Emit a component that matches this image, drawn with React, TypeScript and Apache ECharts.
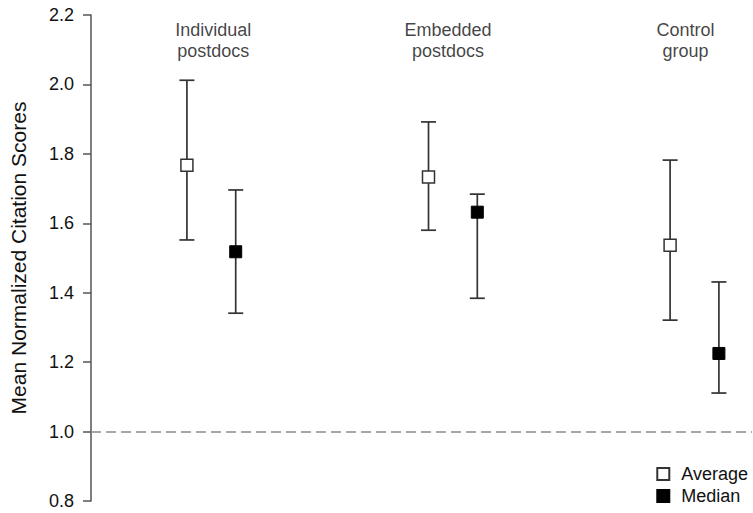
import React, { useEffect, useRef } from "react";
import * as echarts from "echarts";

const groups = ["Individual\npostdocs", "Embedded\npostdocs", "Control\ngroup"];
const groupPos = [0, 1, 2];
const averageMean = [1.767, 1.733, 1.537];
const averageLow = [1.552, 1.58, 1.321];
const averageHigh = [2.012, 1.892, 1.782];
const medianValue = [1.518, 1.632, 1.225];
const medianLow = [1.341, 1.384, 1.111];
const medianHigh = [1.696, 1.684, 1.431];
const yTicks = [0.8, 1.0, 1.2, 1.4, 1.6, 1.8, 2.0, 2.2];
const seriesNames = ["Average", "Median"];
const referenceLevel = 1.0;
const labelLevel = 2.126;

const OFFSET = 0.101;

export default function App() {
  const ref = useRef<HTMLDivElement>(null);
  useEffect(() => {
    if (!ref.current) return;
    const chart = echarts.init(ref.current, null, { renderer: "svg" });
    const font = "Liberation Sans, Arial, sans-serif";
    const errData = (lo: number[], hi: number[], off: number) =>
      groupPos.map((g, i) => [g + off, lo[i], hi[i]]);
    const renderErr = (params: any, api: any) => {
      const x = api.value(0);
      const lo = api.coord([x, api.value(1)]);
      const hi = api.coord([x, api.value(2)]);
      const hw = 7.5;
      const style = { stroke: "#333", lineWidth: 1.7 };
      return {
        type: "group",
        children: [
          { type: "line", shape: { x1: lo[0], y1: lo[1], x2: hi[0], y2: hi[1] }, style },
          { type: "line", shape: { x1: hi[0] - hw, y1: hi[1], x2: hi[0] + hw, y2: hi[1] }, style },
          { type: "line", shape: { x1: lo[0] - hw, y1: lo[1], x2: lo[0] + hw, y2: lo[1] }, style },
        ],
      };
    };
    const labelOffsets = [[2, 0], [-5, 0], [-9, 0]];
    chart.setOption({
      animation: false,
      grid: { left: 90, right: 1, top: 15, bottom: 12 },
      xAxis: {
        type: "value",
        min: -0.498,
        max: 2.238,
        show: false,
      },
      yAxis: {
        type: "value",
        min: yTicks[0],
        max: yTicks[yTicks.length - 1],
        interval: 0.2,
        splitLine: { show: false },
        axisLine: { show: true, onZero: false, lineStyle: { color: "#555", width: 1.5 } },
        axisTick: { show: true, length: 8, lineStyle: { color: "#555", width: 1.5 } },
        axisLabel: {
          color: "#111",
          fontSize: 18,
          fontFamily: font,
          margin: 17,
          formatter: (v: number) => v.toFixed(1),
        },
        name: "Mean Normalized Citation Scores",
        nameLocation: "middle",
        nameGap: 62,
        nameRotate: 90,
        nameTextStyle: { color: "#111", fontSize: 21, fontFamily: font },
      },
      legend: {
        orient: "vertical",
        right: 0,
        bottom: 3,
        itemWidth: 12,
        itemHeight: 12,
        itemGap: 4,
        textStyle: { color: "#111", fontSize: 18, fontFamily: font, padding: [0, 0, 0, 7] },
        data: seriesNames.map((n) => ({ name: n, icon: "rect" })),
      },
      series: [
        {
          type: "custom",
          renderItem: renderErr,
          data: errData(averageLow, averageHigh, -OFFSET),
          encode: { x: 0, y: [1, 2] },
          silent: true,
          z: 2,
          markLine: {
            silent: true,
            symbol: "none",
            label: { show: false },
            lineStyle: { color: "#8a8a8a", type: [10, 5], width: 1.6 },
            data: [{ yAxis: referenceLevel }],
          },
        },
        {
          type: "custom",
          renderItem: renderErr,
          data: errData(medianLow, medianHigh, OFFSET),
          encode: { x: 0, y: [1, 2] },
          silent: true,
          z: 2,
        },
        {
          name: seriesNames[0],
          type: "scatter",
          symbol: "rect",
          symbolSize: 12,
          itemStyle: { color: "#fff", borderColor: "#333", borderWidth: 1.5, opacity: 1 },
          data: groupPos.map((g, i) => [g - OFFSET, averageMean[i]]),
          z: 5,
        },
        {
          name: seriesNames[1],
          type: "scatter",
          symbol: "rect",
          symbolSize: 12,
          itemStyle: { color: "#000", borderColor: "#000", borderWidth: 1, opacity: 1 },
          data: groupPos.map((g, i) => [g + OFFSET, medianValue[i]]),
          z: 5,
        },
        {
          type: "scatter",
          symbolSize: 0,
          silent: true,
          data: groupPos.map((g, i) => ({
            value: [g, labelLevel],
            label: {
              show: true,
              position: "inside",
              formatter: groups[i],
              offset: labelOffsets[i],
              color: "#111",
              fontSize: 18,
              lineHeight: 21,
              fontFamily: font,
              align: "center",
            },
          })),
        },
      ],
    });
    return () => chart.dispose();
  }, []);
  return (
    <div
      ref={ref}
      style={{ position: "absolute", left: 0, top: 0, width: 753, height: 513 }}
    />
  );
}
